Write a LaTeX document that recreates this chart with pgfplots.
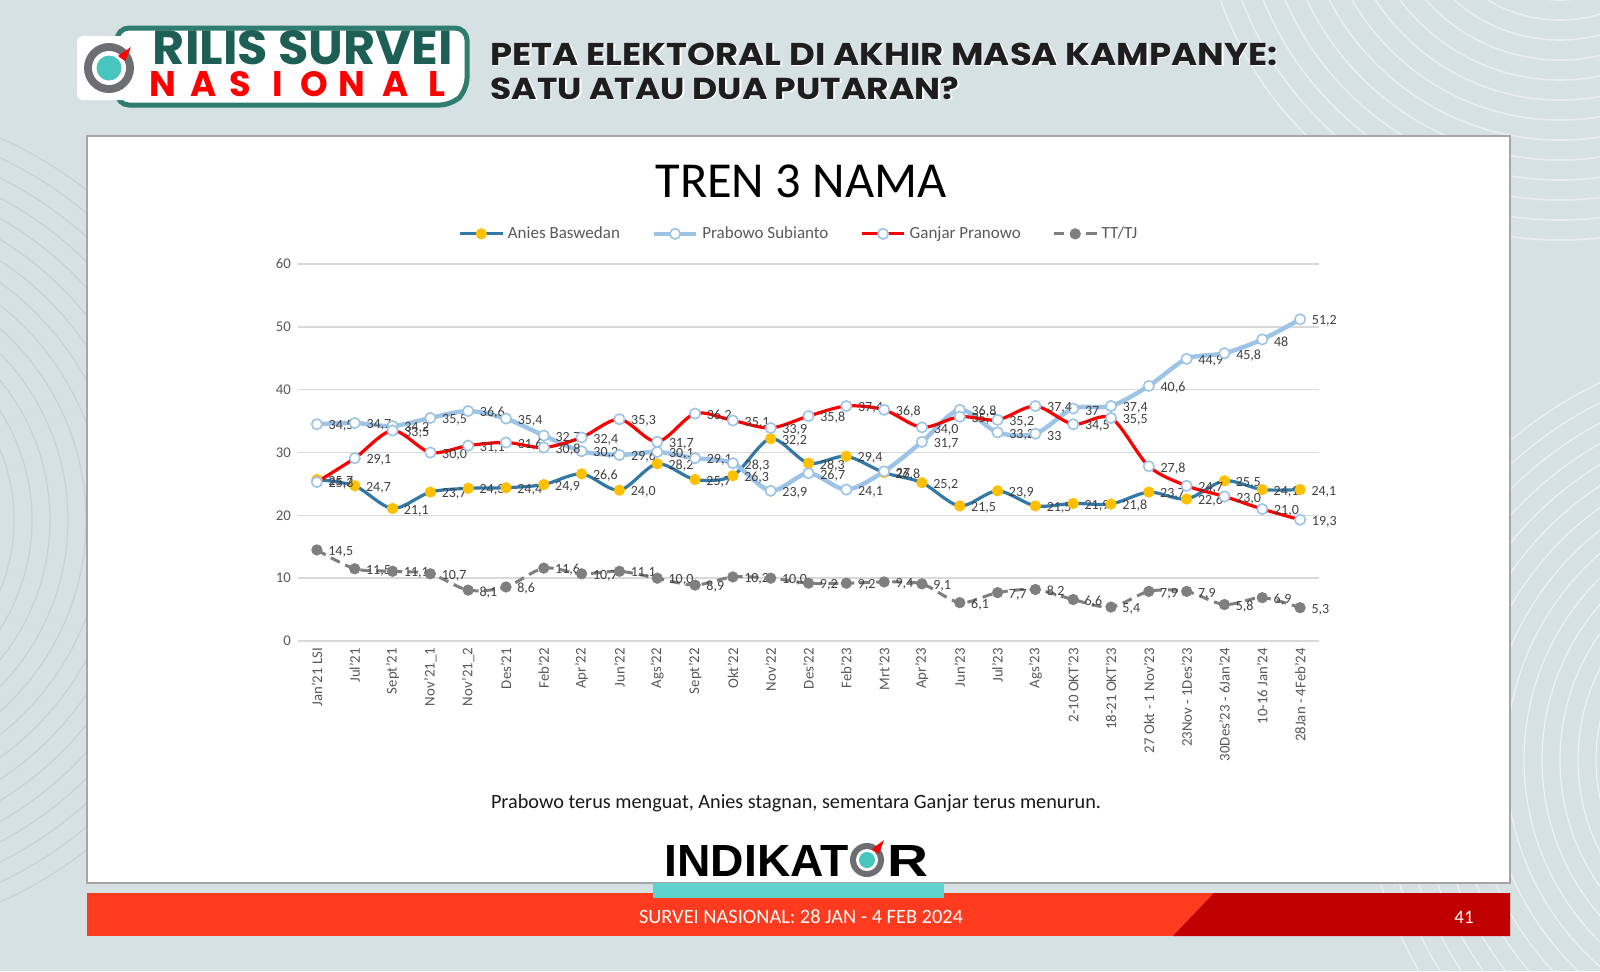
\documentclass[border=0pt]{standalone}
\usepackage{fontspec}
\usepackage{graphicx}
\usepackage{pgfplots}
\usepackage{pgfplotstable}
\pgfplotsset{compat=1.18}
\setmainfont{Carlito}
\newfontfamily\heavy{Poppins}
\newfontfamily\arialb{Liberation Sans}

\definecolor{bg}{HTML}{D6E1E4}
\definecolor{bgline}{HTML}{C6D2D5}
\definecolor{gridc}{HTML}{D9D9D9}
\definecolor{tickc}{HTML}{595959}
\definecolor{labc}{HTML}{404040}
\definecolor{anblue}{HTML}{3379A7}
\definecolor{ayellow}{HTML}{FFC000}
\definecolor{pblue}{HTML}{9DC3E6}
\definecolor{gred}{HTML}{FF0000}
\definecolor{ttgray}{HTML}{7F7F7F}
\definecolor{fred}{HTML}{FF3B1F}
\definecolor{dred}{HTML}{C00000}
\definecolor{tstrip}{HTML}{5ED2CC}
\definecolor{logoteal}{HTML}{2E7D70}
\definecolor{dteal}{HTML}{1E5F55}
\definecolor{ringgray}{HTML}{6D6E71}
\definecolor{tealc}{HTML}{49C5C0}
\definecolor{headtxt}{HTML}{1E1E1E}

\pgfplotstableread{
x an alab pr plab ga glab tt tlab
0 25.7 25,7 34.5 34,5 25.3 25,3 14.5 14,5
1 24.7 24,7 34.7 34,7 29.1 29,1 11.5 11,5
2 21.1 21,1 34.2 34,2 33.5 33,5 11.1 11,1
3 23.7 23,7 35.5 35,5 30.0 30,0 10.7 10,7
4 24.3 24,3 36.6 36,6 31.1 31,1 8.1 8,1
5 24.4 24,4 35.4 35,4 31.6 31,6 8.6 8,6
6 24.9 24,9 32.7 32,7 30.8 30,8 11.6 11,6
7 26.6 26,6 30.2 30,2 32.4 32,4 10.7 10,7
8 24.0 24,0 29.6 29,6 35.3 35,3 11.1 11,1
9 28.2 28,2 30.1 30,1 31.7 31,7 10.0 10,0
10 25.7 25,7 29.1 29,1 36.2 36,2 8.9 8,9
11 26.3 26,3 28.3 28,3 35.1 35,1 10.2 10,2
12 32.2 32,2 23.9 23,9 33.9 33,9 10.0 10,0
13 28.3 28,3 26.7 26,7 35.8 35,8 9.2 9,2
14 29.4 29,4 24.1 24,1 37.4 37,4 9.2 9,2
15 26.8 26,8 27 27 36.8 36,8 9.4 9,4
16 25.2 25,2 31.7 31,7 34.0 34,0 9.1 9,1
17 21.5 21,5 36.8 36,8 35.7 35,7 6.1 6,1
18 23.9 23,9 33.2 33,2 35.2 35,2 7.7 7,7
19 21.5 21,5 33 33 37.4 37,4 8.2 8,2
20 21.9 21,9 37 37 34.5 34,5 6.6 6,6
21 21.8 21,8 37.4 37,4 35.5 35,5 5.4 5,4
22 23.7 23,7 40.6 40,6 27.8 27,8 7.9 7,9
23 22.6 22,6 44.9 44,9 24.7 24,7 7.9 7,9
24 25.5 25,5 45.8 45,8 23.0 23,0 5.8 5,8
25 24.1 24,1 48 48 21.0 21,0 6.9 6,9
26 24.1 24,1 51.2 51,2 19.3 19,3 5.3 5,3
}\data

\begin{document}
\begin{tikzpicture}
\useasboundingbox (0,0) rectangle (800pt,-485.5pt);
\begin{scope}[x=0.5pt,y=-0.5pt]
  % background
  \fill[bg] (0,0) rectangle (1600,971);
  \begin{scope}
    \clip (0,0) rectangle (1600,971);
    \foreach \r in {40,58,...,420} {
      \draw[bgline, line width=0.6pt] (-170,520) circle (\r);
      \draw[white!55!bg, line width=0.6pt] (1780,760) circle (\r);
    }
    \foreach \r in {60,80,...,360} {
      \draw[white!45!bg, line width=0.8pt] (1560,-120) circle (\r);
    }
  \end{scope}
  % white panel
  \fill[white] (87,136) rectangle (1510,883);
  \draw[black!35, line width=1.2pt] (87,136) rectangle (1510,883);
  % footer
  \fill[fred] (87,893) rectangle (1510,936);
  \fill[dred] (1214,893) -- (1510,893) -- (1510,936) -- (1173,936) -- cycle;
  \fill[tstrip] (653,883) rectangle (944,898);
  \node[text=white, inner sep=0] at (801,917) {\resizebox{162pt}{!}{SURVEI NASIONAL: 28 JAN - 4 FEB 2024}};
  \node[text=white, inner sep=0] at (1464,917) {\fontsize{9.5}{10}\selectfont 41};
  % header logo
  \draw[logoteal, line width=2.5pt, fill=white, rounded corners=6pt] (117,28) -- (467,28) -- (467,90) -- (452,105) -- (117,105) -- cycle;
  \fill[white, rounded corners=3pt] (77,36) rectangle (142,100);
  \fill[ringgray] (109,68) circle (25);
  \fill[white] (109,68) circle (17);
  \fill[tealc] (109,68) circle (12.5);
  \fill[gred] (118,56) -- (131,47) -- (125,61) -- cycle;
  \node[text=dteal, inner sep=0] at (303,48) {\resizebox{150pt}{17pt}{\heavy\bfseries RILIS SURVEI}};
  \foreach \c/\xx in {N/163,A/204,S/240,I/278,O/314,N/352,A/396,L/437}
    \node[text=gred, inner sep=0] at (\xx,84) {\resizebox{!}{12.5pt}{\heavy\bfseries \c}};
  % header title
  \node[anchor=base west, inner sep=0, text=white] at (491.5,66.5) {\resizebox{393.5pt}{11.2pt}{\heavy\bfseries PETA ELEKTORAL DI AKHIR MASA KAMPANYE:}};
  \node[anchor=base west, inner sep=0, text=headtxt] at (490,65) {\resizebox{393.5pt}{11.2pt}{\heavy\bfseries PETA ELEKTORAL DI AKHIR MASA KAMPANYE:}};
  \node[anchor=base west, inner sep=0, text=white] at (491.5,100.5) {\resizebox{234.5pt}{11.2pt}{\heavy\bfseries SATU ATAU DUA PUTARAN?}};
  \node[anchor=base west, inner sep=0, text=headtxt] at (490,99) {\resizebox{234.5pt}{11.2pt}{\heavy\bfseries SATU ATAU DUA PUTARAN?}};
  % chart title
  \node[inner sep=0, text=black] at (801,181) {\resizebox{145.5pt}{!}{TREN 3 NAMA}};
  % caption
  \node[inner sep=0, text=black!90] at (796,803) {\resizebox{305pt}{!}{Prabowo terus menguat, Anies stagnan, sementara Ganjar terus menurun.}};
  % INDIKATOR logo
  \node[anchor=base east, inner sep=0, text=black] at (849,876) {\resizebox{92pt}{15.5pt}{\arialb\bfseries INDIKAT}};
  \fill[ringgray] (867,860) circle (17);
  \fill[white] (867,860) circle (11);
  \fill[tealc] (867,860) circle (8);
  \fill[gred] (872,849) -- (884,840) -- (879,854) -- cycle;
  \node[anchor=base west, inner sep=0, text=black] at (887,876) {\resizebox{20.5pt}{15.5pt}{\arialb\bfseries R}};
\end{scope}

\begin{axis}[
  at={(149pt,-320.5pt)}, anchor=south west,
  scale only axis, width=510.5pt, height=188.5pt,
  xmin=-0.5, xmax=26.5, ymin=0, ymax=60,
  ytick={0,10,...,60},
  xtick={0,...,26},
  xticklabels={Jan'21 LSI,Jul'21,Sept'21,Nov'21\_1,Nov'21\_2,Des'21,Feb'22,Apr'22,Jun'22,Ags'22,Sept'22,Okt'22,Nov'22,Des'22,Feb'23,Mrt'23,Apr'23,Jun'23,Jul'23,Ags'23,2-10 OKT'23,18-21 OKT'23,27 Okt - 1 Nov'23,23Nov - 1Des'23,30Des'23 - 6Jan'24,10-16 Jan'24,28Jan - 4Feb'24},
  /pgf/number format/assume math mode=true,
  axis line style={draw=none},
  ymajorgrids, grid style={draw=gridc, line width=0.7pt},
  major tick length=0pt,
  tick label style={font=\fontsize{7.4}{8}\selectfont, text=tickc},
  xticklabel style={rotate=90, anchor=east},
  clip=false,
  legend columns=4,
  legend style={draw=none, fill=none, at={(0.4917,1.08)}, anchor=center,
    font=\fontsize{8.5}{10}\selectfont, text=tickc,
    /tikz/every even column/.append style={column sep=14pt}},
  legend image code/.code={\draw[mark repeat=2,mark phase=2,#1] plot coordinates {(0pt,0pt) (10.5pt,0pt) (21pt,0pt)};},
  nodes near coords, point meta=explicit symbolic,
  every node near coord/.append style={font=\fontsize{7}{8}\selectfont, text=labc, anchor=west, xshift=4.5pt, yshift=-1pt, inner sep=1pt},
]
\addplot[anblue, line width=1.6pt, smooth, mark=*, mark size=2.6pt, mark options={fill=ayellow, draw=ayellow, line width=0.4pt}]
  table[x=x, y=an, meta=alab]{\data};
\addlegendentry{Anies Baswedan}
\addplot[pblue, line width=2.2pt, smooth, mark=*, mark size=2.6pt, mark options={fill=white, draw=pblue, line width=0.8pt}]
  table[x=x, y=pr, meta=plab]{\data};
\addlegendentry{Prabowo Subianto}
\addplot[gred, line width=1.6pt, smooth, mark=*, mark size=2.6pt, mark options={fill=white, draw=pblue, line width=0.8pt}]
  table[x=x, y=ga, meta=glab]{\data};
\addlegendentry{Ganjar Pranowo}
\addplot[ttgray, line width=1.5pt, dash pattern=on 5pt off 3pt, smooth, mark=*, mark size=2.6pt, mark options={solid, fill=ttgray, draw=ttgray, line width=0.4pt}]
  table[x=x, y=tt, meta=tlab]{\data};
\addlegendentry{TT/TJ}
\end{axis}
\end{tikzpicture}
\end{document}
